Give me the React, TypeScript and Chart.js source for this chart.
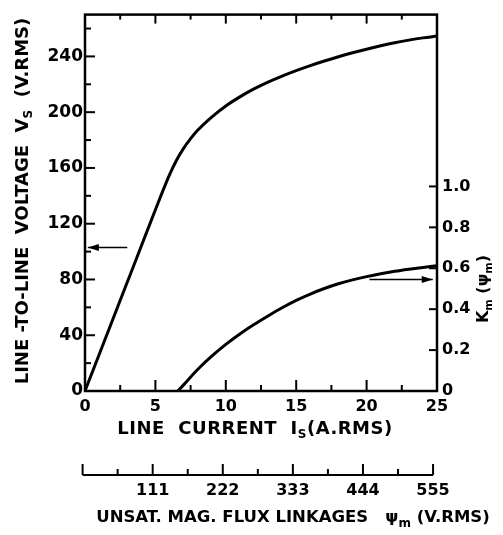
import { useEffect, useRef } from "react";
import { Chart, registerables } from "chart.js";

Chart.register(...registerables);

// ---- data ----
const currentForVs = [0, 1, 2, 3, 4, 5, 5.5, 6, 6.5, 7, 7.5, 8, 9, 10, 11, 12, 13, 14, 15, 16, 17, 18, 19, 20, 21, 22, 23, 24, 25];
const lineVoltage = [0, 26, 52, 78, 104, 130, 142.8, 155, 165.5, 174, 181, 187, 196.5, 204.5, 211, 216.7, 221.6, 225.9, 229.8, 233.4, 236.7, 239.8, 242.6, 245.2, 247.6, 249.8, 251.7, 253.3, 254.6];
const currentForKm = [6.6, 7, 8, 9, 10, 11, 12, 13, 14, 15, 16, 17, 18, 19, 20, 21, 22, 23, 24, 25];
const kmValues = [0, 0.03, 0.105, 0.17, 0.228, 0.279, 0.325, 0.367, 0.407, 0.443, 0.474, 0.501, 0.524, 0.543, 0.559, 0.573, 0.585, 0.595, 0.604, 0.612];

const leftArrowX = [3.0, 0.2];
const leftArrowY = [103, 103];
const rightArrowX = [20.2, 24.7];
const rightArrowY = [0.545, 0.545];

const xMajorTicks = [5, 10, 15, 20];
const xMinorTicks = [2.5, 7.5, 12.5, 17.5, 22.5];
const vsMajorTicks = [40, 80, 120, 160, 200, 240];
const vsMinorTicks = [20, 60, 100, 140, 180, 220, 260];
const kmTicks = [0.2, 0.4, 0.6, 0.8, 1.0];
const fluxMajorTicks = [0, 111, 222, 333, 444, 555];
const fluxMinorTicks = [55.5, 166.5, 277.5, 388.5, 499.5];
const fluxLabels = ["111", "222", "333", "444", "555"];
const fluxLabelValues = [111, 222, 333, 444, 555];

// flux axis is the current axis rescaled (555 V.RMS <-> ~25 A.RMS)
const FLUX_OFFSET_A = -0.17;
const FLUX_PER_A = 555 / 24.89;

const FONT = '"DejaVu Sans", sans-serif';

type Seg = { text: string; size: number; dy?: number };

function drawRich(ctx: CanvasRenderingContext2D, segs: Seg[], cx: number, cy: number, rot: number, ls = 0) {
  ctx.save();
  ctx.translate(cx, cy);
  ctx.rotate(rot);
  ctx.textBaseline = "middle";
  ctx.textAlign = "left";
  const widths: number[] = [];
  let total = 0;
  for (const s of segs) {
    ctx.font = `bold ${s.size}px ${FONT}`;
    (ctx as any).letterSpacing = `${ls}px`;
    const w = ctx.measureText(s.text).width;
    widths.push(w);
    total += w;
  }
  let x = -total / 2;
  segs.forEach((s, i) => {
    ctx.font = `bold ${s.size}px ${FONT}`;
    (ctx as any).letterSpacing = `${ls}px`;
    ctx.fillText(s.text, x, s.dy || 0);
    x += widths[i];
  });
  ctx.restore();
}

const framePlugin = {
  id: "frame",
  afterDatasetsDraw(chart: any) {
    const { ctx } = chart;
    [2, 3].forEach((di) => {
      const meta = chart.getDatasetMeta(di);
      const pts = meta.data;
      if (pts.length < 2) return;
      const a = pts[pts.length - 2];
      const b = pts[pts.length - 1];
      const ang = Math.atan2(b.y - a.y, b.x - a.x);
      const L = 11, W = 3.5;
      ctx.save();
      ctx.fillStyle = "#000";
      ctx.translate(b.x, b.y);
      ctx.rotate(ang);
      ctx.beginPath();
      ctx.moveTo(0, 0);
      ctx.lineTo(-L, -W);
      ctx.lineTo(-L, W);
      ctx.closePath();
      ctx.fill();
      ctx.restore();
    });
  },
  afterDraw(chart: any) {
    const { ctx, chartArea: a, scales } = chart;
    const xs = scales.x, ys = scales.y, y2s = scales.y2;
    ctx.save();
    ctx.strokeStyle = "#000";
    ctx.fillStyle = "#000";
    ctx.lineCap = "butt";
    ctx.lineWidth = 2.5;
    ctx.strokeRect(a.left, a.top, a.right - a.left, a.bottom - a.top);
    ctx.lineWidth = 2;
    const line = (x1: number, y1: number, x2: number, y2: number) => {
      ctx.beginPath();
      ctx.moveTo(x1, y1);
      ctx.lineTo(x2, y2);
      ctx.stroke();
    };
    xMajorTicks.forEach((v) => {
      const p = xs.getPixelForValue(v);
      line(p, a.bottom, p, a.bottom - 11);
      line(p, a.top, p, a.top + 9);
    });
    xMinorTicks.forEach((v) => {
      const p = xs.getPixelForValue(v);
      line(p, a.bottom, p, a.bottom - 6);
      line(p, a.top, p, a.top + 5);
    });
    vsMajorTicks.forEach((v) => {
      const p = ys.getPixelForValue(v);
      line(a.left, p, a.left + 10, p);
    });
    vsMinorTicks.forEach((v) => {
      const p = ys.getPixelForValue(v);
      line(a.left, p, a.left + 6, p);
    });
    kmTicks.forEach((v) => {
      const p = y2s.getPixelForValue(v);
      line(a.right, p, a.right - 8, p);
    });

    // secondary flux axis
    const fx = (f: number) => xs.getPixelForValue(FLUX_OFFSET_A + f / FLUX_PER_A);
    const axY = 475;
    line(fx(0), axY, fx(555), axY);
    fluxMajorTicks.forEach((f) => line(fx(f), axY, fx(f), axY - 11));
    fluxMinorTicks.forEach((f) => line(fx(f), axY, fx(f), axY - 6));
    ctx.font = `bold 16px ${FONT}`;
    ctx.textAlign = "center";
    ctx.textBaseline = "middle";
    fluxLabels.forEach((t, i) => ctx.fillText(t, fx(fluxLabelValues[i]), 491));
    ctx.restore();

    // axis titles
    drawRich(ctx, [
      { text: "LINE -TO-LINE  VOLTAGE  V", size: 18 },
      { text: "S", size: 12, dy: 6 },
      { text: "  (V.RMS)", size: 18 },
    ], 23, 201, -Math.PI / 2);
    drawRich(ctx, [
      { text: "LINE  CURRENT  I", size: 18 },
      { text: "S", size: 12, dy: 6 },
      { text: "(A.RMS)", size: 18 },
    ], 255, 429, 0, 0.5);
    drawRich(ctx, [
      { text: "UNSAT. MAG. FLUX LINKAGES   \u03C8", size: 16.5 },
      { text: "m", size: 12, dy: 6 },
      { text: " (V.RMS)", size: 16.5 },
    ], 293, 518, 0);
    drawRich(ctx, [
      { text: "K", size: 16 },
      { text: "m", size: 11, dy: 5 },
      { text: " (\u03C8", size: 16 },
      { text: "m", size: 11, dy: 5 },
      { text: ")", size: 16 },
    ], 484, 289, -Math.PI / 2);
  },
};

export default function App() {
  const ref = useRef<HTMLCanvasElement | null>(null);
  useEffect(() => {
    if (!ref.current) return;
    const tickFont = { family: FONT, size: 16, weight: "bold" as const };
    const leftFont = { family: FONT, size: 17, weight: "bold" as const };
    const noGrid = { display: false, drawTicks: false, tickLength: 0 };
    const chart = new Chart(ref.current, {
      type: "line",
      data: {
        datasets: [
          {
            data: currentForVs.map((x, i) => ({ x, y: lineVoltage[i] })),
            yAxisID: "y",
            borderColor: "#000",
            borderWidth: 3,
            pointRadius: 0,
            cubicInterpolationMode: "monotone",
          },
          {
            data: currentForKm.map((x, i) => ({ x, y: kmValues[i] })),
            yAxisID: "y2",
            borderColor: "#000",
            borderWidth: 3,
            pointRadius: 0,
            cubicInterpolationMode: "monotone",
          },
          {
            data: leftArrowX.map((x, i) => ({ x, y: leftArrowY[i] })),
            yAxisID: "y",
            borderColor: "#000",
            borderWidth: 1.5,
            pointRadius: 0,
          },
          {
            data: rightArrowX.map((x, i) => ({ x, y: rightArrowY[i] })),
            yAxisID: "y2",
            borderColor: "#000",
            borderWidth: 1.5,
            pointRadius: 0,
          },
        ],
      },
      options: {
        animation: false,
        responsive: true,
        maintainAspectRatio: false,
        layout: { padding: { top: 9, left: 0, right: 0, bottom: 0 } },
        plugins: { legend: { display: false }, tooltip: { enabled: false } },
        scales: {
          x: {
            type: "linear",
            position: "bottom",
            min: 0,
            max: 25,
            grid: noGrid,
            border: { display: false },
            ticks: { stepSize: 5, font: tickFont, color: "#000", padding: 6, maxRotation: 0 },
            afterFit: (s: any) => { s.height = 144; },
          },
          y: {
            type: "linear",
            position: "left",
            min: 0,
            max: 270,
            grid: noGrid,
            border: { display: false },
            ticks: {
              stepSize: 40,
              font: leftFont,
              color: "#000",
              padding: 2,
              callback: (v: any) => (Number(v) % 40 === 0 && Number(v) <= 240 ? String(v) : null),
            },
            afterFit: (s: any) => { s.width = 85; },
          },
          y2: {
            type: "linear",
            position: "right",
            min: 0,
            max: 1.84,
            grid: noGrid,
            border: { display: false },
            ticks: {
              stepSize: 0.2,
              font: tickFont,
              color: "#000",
              padding: 5,
              callback: (v: any) => {
                const n = Number(v);
                if (n > 1.001) return null;
                if (Math.abs(n) < 1e-9) return "0";
                const r = Math.round(n * 10) / 10;
                if (Math.abs(r - n) > 1e-6) return null;
                return r.toFixed(1);
              },
            },
            afterFit: (s: any) => { s.width = 66; },
          },
        },
      },
      plugins: [framePlugin],
    });
    return () => chart.destroy();
  }, []);
  return (
    <div style={{ position: "fixed", left: 0, top: 0, width: 503, height: 535, background: "#fff" }}>
      <canvas ref={ref} />
    </div>
  );
}
